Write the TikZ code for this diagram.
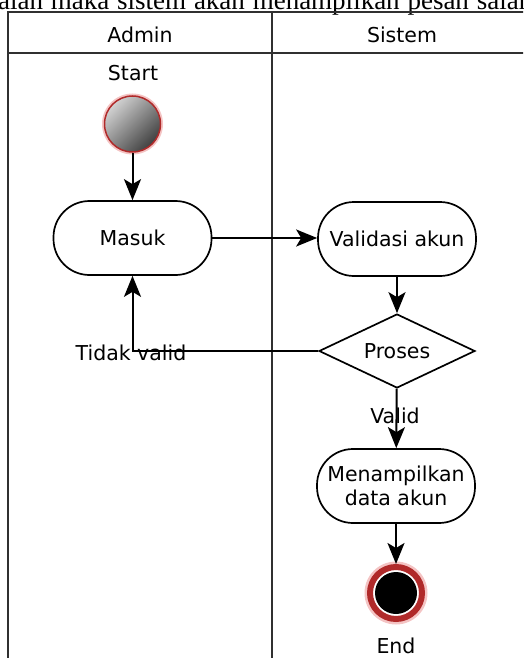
\documentclass[tikz,border=0pt]{standalone}
\usepackage{fontspec}
\setmainfont{DejaVu Sans}
\newfontfamily\serifdoc{Liberation Serif}
\usetikzlibrary{shapes.geometric,arrows.meta}
\definecolor{framec}{HTML}{303030}
\definecolor{ringred}{HTML}{B02A2A}
\definecolor{glow}{HTML}{F4C4C4}
\tikzset{
  lbl/.style={font=\fontsize{20.5}{24}\selectfont, inner sep=0pt},
  act/.style={draw, line width=1.7pt, rectangle, rounded corners=36pt,
    minimum width=158pt, minimum height=74pt, align=center,
    font=\fontsize{20.5}{24}\selectfont, inner sep=0pt},
  dec/.style={draw, line width=1.7pt, diamond, aspect=2.1,
    minimum width=156pt, minimum height=74pt, inner sep=0pt,
    font=\fontsize{20.5}{24}\selectfont},
  arr/.style={line width=2pt, -{Stealth[length=21pt,width=17pt,inset=5pt]}},
  lane/.style={draw=framec, line width=2.4pt},
}
\begin{document}
\begin{tikzpicture}[x=1pt,y=-1pt]
\useasboundingbox (0,0) rectangle (523,658);
\clip (0,0) rectangle (523,658);
% clipped line of the surrounding document
\node[anchor=base west, inner sep=0pt, font=\serifdoc\fontsize{27}{30}\selectfont] (doc) at (-2,9.5)
  {\makebox[534pt][s]{alan maka sistem akan menampilkan pesan salah}};
% swimlanes
\draw[lane] (8,660) -- (8,12) -- (530,12);
\draw[lane] (8,53) -- (530,53);
\draw[lane] (272,12) -- (272,660);
\node[lbl, anchor=base] (hadmin) at (140,43) {Admin};
\node[lbl, anchor=base] (hsistem) at (402,43) {Sistem};
% start
\node[lbl, anchor=base] (startlbl) at (133,81) {Start};
\fill[glow] (132.5,124) circle (30.5pt);
\node[circle, minimum size=56pt, inner sep=0pt, draw=ringred, line width=1.5pt,
  top color=gray!35, bottom color=black!75, shading angle=45] (start) at (132.5,124) {};
% activities
\node[act] (masuk) at (132.5,238) {Masuk};
\node[act] (valid) at (397,239) {Validasi akun};
\node[dec] (proses) at (397,351) {Proses};
\node[act] (tampil) at (396,486) {Menampilkan\\data akun};
% end
\fill[glow] (396,593) circle (31.5pt);
\node[circle, minimum size=52pt, inner sep=0pt, draw=ringred, line width=6pt, fill=white] (end) at (396,593) {};
\node[circle, minimum size=42pt, inner sep=0pt, fill=black] (endcore) at (396,593) {};
\node[lbl, anchor=base] (endlbl) at (396,653) {End};
% labels
\node[lbl, anchor=base] (tidaklbl) at (131,360) {Tidak valid};
\node[lbl, anchor=base] (validlbl) at (395,423) {Valid};
% connectors
\draw[arr] (start) -- (masuk);
\draw[arr] (masuk.east) -- (masuk.east -| valid.west);
\draw[arr] (valid) -- (proses);
\draw[arr] (proses.west) -| (masuk.south);
\draw[arr] (proses) -- (tampil);
\draw[arr] (tampil) -- (end);
\end{tikzpicture}
\end{document}
